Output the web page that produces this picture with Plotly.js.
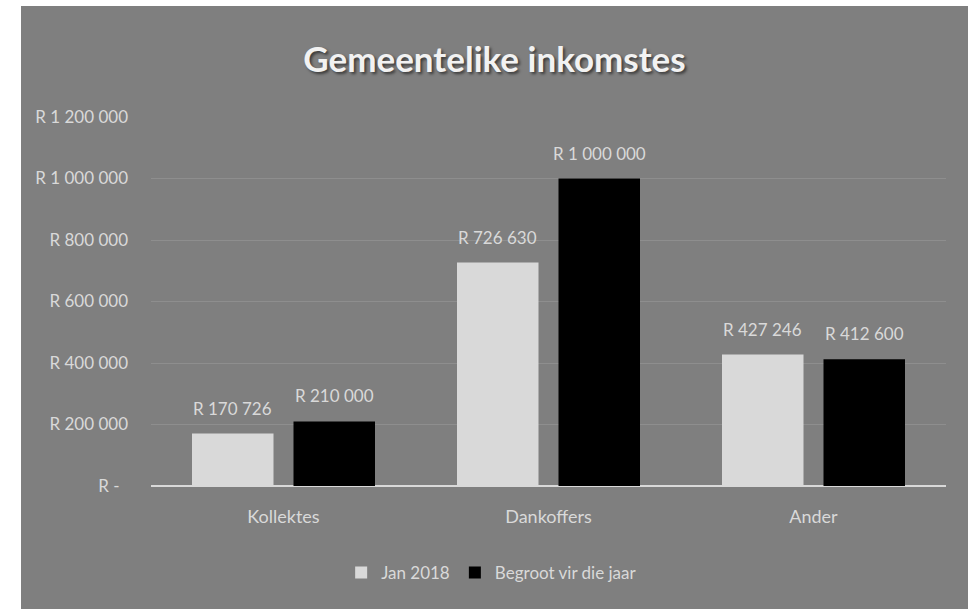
<!DOCTYPE html>
<html>
<head>
<meta charset="utf-8">
<script src="https://cdn.plot.ly/plotly-3.0.1.min.js"></script>
<style>
  html, body { margin: 0; padding: 0; background: #ffffff; width: 975px; height: 609px; overflow: hidden; }
  #chart { position: absolute; left: 21px; top: 6px; width: 947px; height: 603px; }
</style>
</head>
<body>
<div id="chart"></div>
<script>
const categories = ['Kollektes', 'Dankoffers', 'Ander'];
const jan2018 = [170726, 726630, 427246];
const begroot = [210000, 1000000, 412600];
const seriesNames = ['Jan 2018', 'Begroot vir die jaar'];
const tickVals = [0, 200000, 400000, 600000, 800000, 1000000, 1200000];
const tickText = ['R -\u2002', 'R 200 000', 'R 400 000', 'R 600 000', 'R 800 000', 'R 1 000 000', 'R 1 200 000'];

const FONT = 'Lato, "Liberation Sans", sans-serif';
const TXT = '#d9d9d9';

function fmt(v) {
  return 'R ' + String(v).replace(/\B(?=(\d{3})+(?!\d))/g, ' ');
}

const traces = [
  { type: 'bar', name: seriesNames[0], x: categories, y: jan2018,
    marker: { color: '#d9d9d9', line: { width: 0 } }, hoverinfo: 'none' },
  { type: 'bar', name: seriesNames[1], x: categories, y: begroot,
    marker: { color: '#000000', line: { width: 0 } }, hoverinfo: 'none' }
];

const annotations = [];
const shift = 50.75;
[jan2018, begroot].forEach((arr, si) => {
  arr.forEach((v, i) => {
    annotations.push({
      x: categories[i], y: v, xref: 'x', yref: 'y',
      text: fmt(v), showarrow: false, yanchor: 'bottom', xanchor: 'center',
      xshift: si === 0 ? -shift : shift, yshift: 13,
      font: { family: FONT, size: 17, color: TXT }
    });
  });
});

const layout = {
  width: 947, height: 603,
  paper_bgcolor: '#7f7f7f', plot_bgcolor: '#7f7f7f',
  margin: { l: 130, r: 22, t: 111, b: 123 },
  title: {
    text: 'Gemeentelike inkomstes',
    font: { family: FONT, size: 35, color: '#f2f2f2', weight: 'bold',
            shadow: '2px 2px 3px rgba(0,0,0,0.55)' },
    x: 0.5, xanchor: 'center', y: 1 - 54 / 603, yanchor: 'middle', yref: 'container'
  },
  barmode: 'group', bargap: 0.234, bargroupgap: 0.197,
  xaxis: {
    type: 'category', showgrid: false, zeroline: false,
    showline: false, ticks: '', ticklabelstandoff: 18,
    tickfont: { family: FONT, size: 18, color: TXT }
  },
  yaxis: {
    range: [0, 1200000], tickvals: tickVals, ticktext: tickText,
    showgrid: true, gridcolor: '#8e8e8e', gridwidth: 1,
    zeroline: true, zerolinecolor: '#d9d9d9', zerolinewidth: 2,
    showline: false, ticks: '', ticklabelstandoff: 22,
    tickfont: { family: FONT, size: 17, color: TXT }
  },
  showlegend: true,
  legend: {
    orientation: 'h', x: 0.497, xanchor: 'center', xref: 'container',
    y: 1 - 567 / 603, yanchor: 'middle', yref: 'container',
    font: { family: FONT, size: 17, color: TXT },
    itemwidth: 30, bgcolor: 'rgba(0,0,0,0)', traceorder: 'normal'
  },
  annotations: annotations
};

Plotly.newPlot('chart', traces, layout, { staticPlot: true, displayModeBar: false });
</script>
</body>
</html>
